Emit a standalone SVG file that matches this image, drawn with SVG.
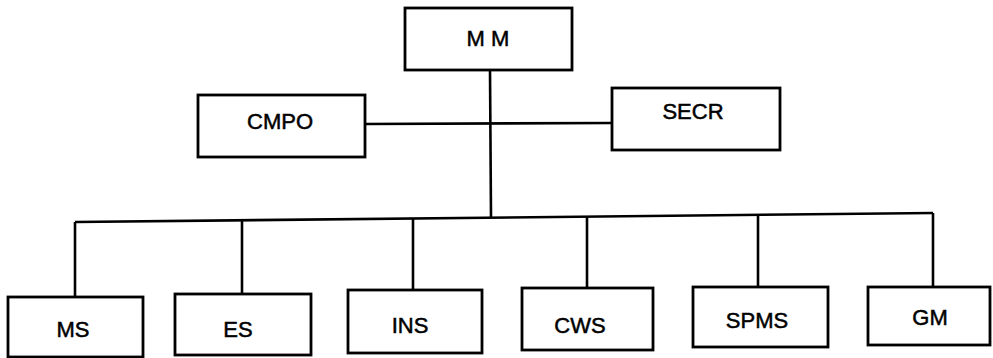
<svg xmlns="http://www.w3.org/2000/svg" width="993" height="358" viewBox="0 0 993 358">
<style>
.box{fill:#fff;stroke:#000;stroke-width:2.8}
.lbl{font-family:"Liberation Sans",Arial,sans-serif;font-size:22px;fill:#000;stroke:#000;stroke-width:0.5;text-anchor:middle}
.ln{fill:none;stroke:#000;stroke-width:2.6}
</style>
<rect width="993" height="358" fill="#fff"/>
<g id="connectors">
<line class="ln" x1="490" y1="70" x2="491" y2="218"/>
<line class="ln" x1="365" y1="124" x2="612" y2="123"/>
<line class="ln" x1="75" y1="222" x2="933" y2="213"/>
<line class="ln" x1="75" y1="222" x2="75" y2="297"/>
<line class="ln" x1="242" y1="220" x2="242" y2="294"/>
<line class="ln" x1="413" y1="218" x2="413" y2="290"/>
<line class="ln" x1="587" y1="216" x2="587" y2="288"/>
<line class="ln" x1="758" y1="215" x2="758" y2="287"/>
<line class="ln" x1="933" y1="213" x2="933" y2="287"/>
</g>
<g id="MM"><rect class="box" x="405" y="8" width="167" height="62"/><text class="lbl" x="488" y="46">M M</text></g>
<g id="CMPO"><rect class="box" x="198" y="95" width="167" height="62"/><text class="lbl" x="280" y="129">CMPO</text></g>
<g id="SECR"><rect class="box" x="612" y="88" width="168" height="62"/><text class="lbl" x="693" y="119">SECR</text></g>
<g id="MS"><rect class="box" x="8" y="297" width="135" height="60"/><text class="lbl" x="73" y="337">MS</text></g>
<g id="ES"><rect class="box" x="175" y="294" width="136" height="61"/><text class="lbl" x="238" y="337">ES</text></g>
<g id="INS"><rect class="box" x="348" y="290" width="134" height="63"/><text class="lbl" x="410" y="333">INS</text></g>
<g id="CWS"><rect class="box" x="522" y="288" width="131" height="62"/><text class="lbl" x="580" y="333">CWS</text></g>
<g id="SPMS"><rect class="box" x="693" y="287" width="135" height="60"/><text class="lbl" x="757" y="328">SPMS</text></g>
<g id="GM"><rect class="box" x="868" y="287" width="122" height="58"/><text class="lbl" x="930" y="325">GM</text></g>
</svg>
